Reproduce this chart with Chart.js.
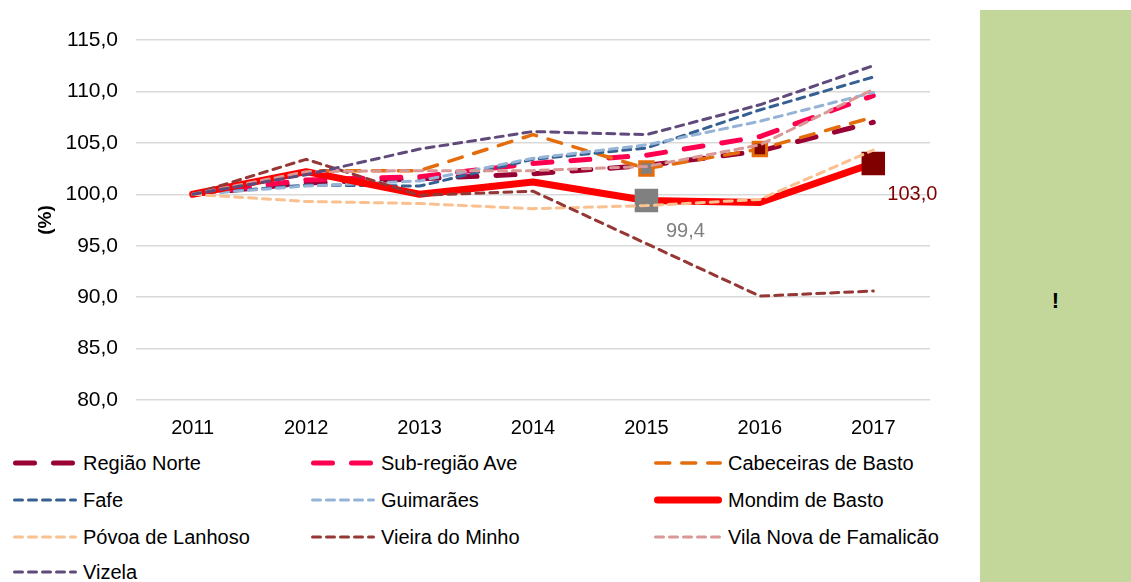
<!DOCTYPE html>
<html>
<head>
<meta charset="utf-8">
<script src="https://cdn.jsdelivr.net/npm/chart.js@4"></script>
<style>
  html, body { margin: 0; padding: 0; background: #fff; }
  body { width: 1131px; height: 582px; position: relative; overflow: hidden; font-family: 'Liberation Sans', Arial, sans-serif; }
  #chartBox { position: absolute; left: 0; top: 0; width: 960px; height: 445px; }
  #side { position: absolute; left: 980px; top: 10px; width: 151px; height: 572px; background: #C4D79B; }
  #side span { position: absolute; left: 0; width: 100%; top: 278px; text-align: center; font-weight: bold; font-size: 22px; color: #000; }
  .lg { position: absolute; height: 22px; line-height: 22px; font-size: 20px; color: #000; white-space: nowrap; }
  .lg svg { position: absolute; left: 0; top: 0; }
  .lg span { position: absolute; top: 0; }
</style>
</head>
<body>
<div id="chartBox"><canvas id="chart"></canvas></div>
<div id="side"><span>!</span></div>
<div id="legend"></div>
<script>
const years = ['2011', '2012', '2013', '2014', '2015', '2016', '2017'];
const yTicks = [80, 85, 90, 95, 100, 105, 110, 115];

const regiaoNorte   = [100, 101.1, 101.5, 102.0, 102.8, 104.2, 107.0];
const subRegiaoAve  = [100, 101.4, 101.7, 103.0, 103.8, 105.6, 109.6];
const cabeceiras    = [100, 102.3, 102.3, 105.8, 102.5, 104.4, 107.5];
const fafe          = [100, 100.9, 100.8, 103.4, 104.5, 108.2, 111.4];
const guimaraes     = [100, 100.8, 101.3, 103.5, 104.8, 107.1, 109.9];
const mondim        = [100, 102.2, 100.0, 101.2, 99.4, 99.2, 103.0];
const povoa         = [100, 99.3, 99.1, 98.6, 98.9, 99.5, 104.3];
const vieira        = [100, 103.4, 99.9, 100.3, 95.2, 90.1, 90.6];
const famalicao     = [100, 102.2, 102.3, 102.3, 102.7, 104.8, 110.2];
const vizela        = [100, 101.9, 104.4, 106.1, 105.8, 108.7, 112.5];

const series = [
  { label: 'Região Norte', data: regiaoNorte, color: '#990033', width: 5, dash: [19, 19], cap: 'round' },
  { label: 'Sub-região Ave', data: subRegiaoAve, color: '#FF0050', width: 5, dash: [19, 19], cap: 'round' },
  { label: 'Cabeceiras de Basto', data: cabeceiras, color: '#E46C0A', width: 3.5, dash: [14, 12], cap: 'round' },
  { label: 'Fafe', data: fafe, color: '#376092', width: 3, dash: [8, 6], cap: 'round' },
  { label: 'Guimarães', data: guimaraes, color: '#95B3D7', width: 3, dash: [8, 6], cap: 'round' },
  { label: 'Mondim de Basto', data: mondim, color: '#FF0000', width: 7, dash: [], cap: 'round' },
  { label: 'Póvoa de Lanhoso', data: povoa, color: '#FAC090', width: 3, dash: [8, 6], cap: 'round' },
  { label: 'Vieira do Minho', data: vieira, color: '#953735', width: 3, dash: [8, 6], cap: 'round' },
  { label: 'Vila Nova de Famalicão', data: famalicao, color: '#D99795', width: 3, dash: [8, 6], cap: 'round' },
  { label: 'Vizela', data: vizela, color: '#604A7B', width: 3, dash: [8, 6], cap: 'round' }
];

// highlighted points
const mondimMarks = { 4: '#808080', 6: '#800000' };
const cabeceirasMarks = { 4: '#808080', 5: '#800000' };

function markRadius(marks, r) {
  return years.map((y, i) => marks[i] ? r : 0);
}
function markFill(marks) {
  return years.map((y, i) => marks[i] || 'rgba(0,0,0,0)');
}

const datasets = series.map((s, i) => {
  const ds = {
    label: s.label,
    data: s.data,
    borderColor: s.color,
    backgroundColor: s.color,
    borderWidth: s.width,
    borderDash: s.dash,
    borderCapStyle: s.cap,
    borderJoinStyle: 'round',
    tension: 0,
    fill: false,
    pointRadius: 0,
    order: 20 - i
  };
  if (s.label === 'Mondim de Basto') {
    ds.pointStyle = 'rect';
    ds.pointRadius = markRadius(mondimMarks, 14.5);
    ds.pointBackgroundColor = markFill(mondimMarks);
    ds.pointBorderColor = markFill(mondimMarks);
    ds.pointBorderWidth = 3;
  }
  if (s.label === 'Cabeceiras de Basto') {
    ds.pointStyle = 'rect';
    ds.pointRadius = markRadius(cabeceirasMarks, 9.5);
    ds.pointBackgroundColor = markFill(cabeceirasMarks);
    ds.pointBorderColor = '#E46C0A';
    ds.pointBorderWidth = 3;
  }
  return ds;
});

// value labels for Mondim de Basto highlighted points
const valueLabels = {
  id: 'valueLabels',
  afterDatasetsDraw(chart) {
    const ctx = chart.ctx;
    const idx = chart.data.datasets.findIndex(d => d.label === 'Mondim de Basto');
    const meta = chart.getDatasetMeta(idx);
    ctx.save();
    ctx.font = '20px "Liberation Sans", Arial, sans-serif';
    ctx.textAlign = 'center';
    ctx.textBaseline = 'middle';
    Object.keys(mondimMarks).forEach(k => {
      const pt = meta.data[k];
      const v = mondim[k].toFixed(1).replace('.', ',');
      ctx.fillStyle = mondimMarks[k];
      ctx.fillText(v, pt.x + 39, pt.y + 31);
    });
    ctx.restore();
  }
};

Chart.defaults.font.family = "'Liberation Sans', Arial, sans-serif";
Chart.defaults.color = '#000';

new Chart(document.getElementById('chart'), {
  type: 'line',
  data: { labels: years, datasets: datasets },
  options: {
    responsive: true,
    maintainAspectRatio: false,
    animation: false,
    layout: { padding: { top: 40, right: 30, left: 0, bottom: 0 } },
    plugins: {
      legend: { display: false },
      tooltip: { enabled: false }
    },
    scales: {
      x: {
        offset: true,
        grid: { display: false },
        border: { display: false },
        ticks: { font: { size: 20 }, color: '#000', padding: 8, maxRotation: 0 },
        afterFit: axis => { axis.height = 45; }
      },
      y: {
        min: 80,
        max: 115,
        afterBuildTicks: axis => { axis.ticks = yTicks.map(v => ({ value: v })); },
        grid: { color: '#D9D9D9', lineWidth: 1.5, drawTicks: false },
        border: { display: false },
        ticks: {
          font: { size: 21 },
          color: '#000',
          padding: 18,
          callback: v => v.toFixed(1).replace('.', ',')
        },
        title: {
          display: true,
          text: '(%)',
          font: { size: 19, weight: 'bold' },
          color: '#000',
          padding: { top: 34, bottom: 0 }
        },
        afterFit: axis => { axis.width = 136; }
      }
    }
  },
  plugins: [valueLabels]
});

// legend in three columns, like the original
const colX = [12, 310, 653];
const rowY = [452, 489, 526, 561];
const legendBox = document.getElementById('legend');
series.forEach((s, i) => {
  const item = document.createElement('div');
  item.className = 'lg';
  item.style.left = colX[i % 3] + 'px';
  item.style.top = rowY[Math.floor(i / 3)] + 'px';
  const sampleW = i % 3 === 2 ? 70 : 66;
  const dash = s.dash.length ? s.dash.join(' ') : 'none';
  item.innerHTML =
    '<svg width="' + sampleW + '" height="22"><line x1="' + (s.width / 2 + 1) + '" y1="11" x2="' + (sampleW - s.width / 2 - 1) +
    '" y2="11" stroke="' + s.color + '" stroke-width="' + s.width + '" stroke-dasharray="' + dash +
    '" stroke-linecap="' + s.cap + '"/></svg><span style="left:' + (sampleW + 5) + 'px">' + s.label + '</span>';
  legendBox.appendChild(item);
});
</script>
</body>
</html>
